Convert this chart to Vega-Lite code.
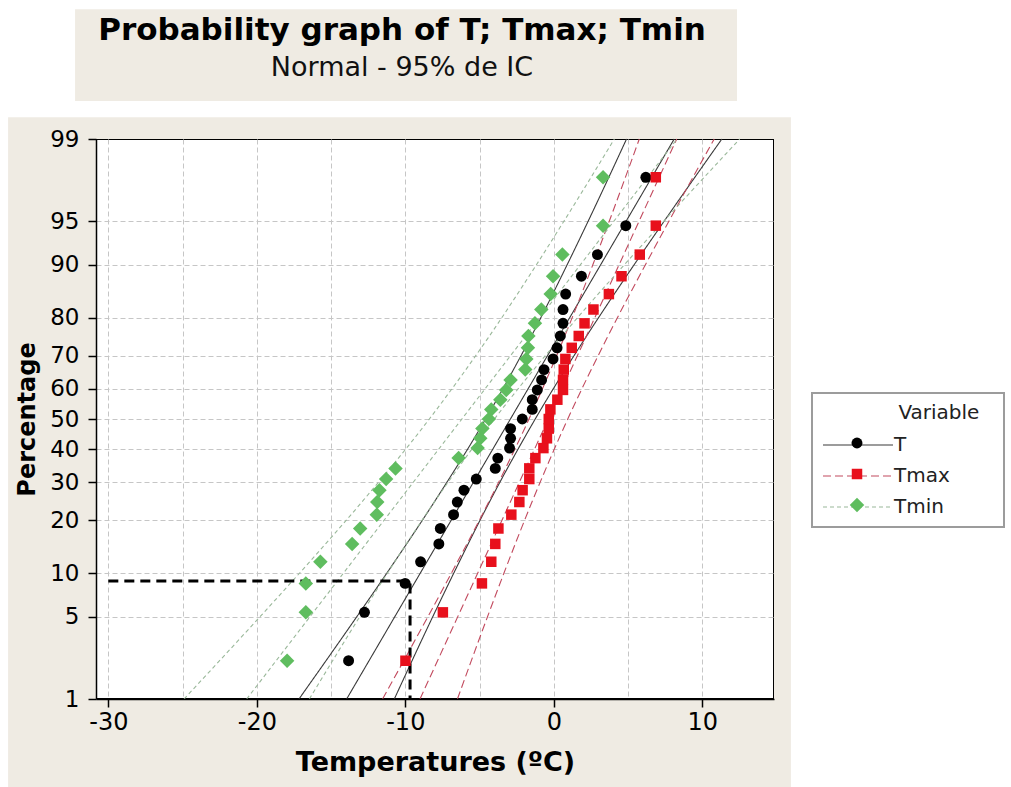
{
  "$schema": "https://vega.github.io/schema/vega-lite/v6.json",
  "width": 678,
  "height": 560,
  "autosize": "none",
  "padding": {"left": 96, "top": 139, "right": 237, "bottom": 88},
  "background": "#ffffff",
  "config": {
    "view": {"stroke": "#000000", "strokeWidth": 2, "fill": "#ffffff"},
    "font": "DejaVu Sans"
  },
  "title": {
    "text": "Probability graph of T; Tmax; Tmin",
    "subtitle": "Normal - 95% de IC",
    "anchor": "middle",
    "frame": "group",
    "font": "DejaVu Sans",
    "fontSize": 31,
    "fontWeight": "bold",
    "color": "#000000",
    "subtitleFont": "DejaVu Sans",
    "subtitleFontSize": 27,
    "subtitleColor": "#111111",
    "subtitlePadding": 8,
    "offset": -73,
    "dx": -33
  },
  "datasets": {
    "points": [
      {"var": "T", "pct": 2.23, "temp": -13.82}, {"var": "T", "pct": 5.41, "temp": -12.75}, {"var": "T", "pct": 8.6, "temp": -10.01},
      {"var": "T", "pct": 11.78, "temp": -8.97}, {"var": "T", "pct": 14.97, "temp": -7.74}, {"var": "T", "pct": 18.15, "temp": -7.64},
      {"var": "T", "pct": 21.34, "temp": -6.75}, {"var": "T", "pct": 24.52, "temp": -6.5}, {"var": "T", "pct": 27.71, "temp": -6.05},
      {"var": "T", "pct": 30.89, "temp": -5.22}, {"var": "T", "pct": 34.08, "temp": -3.94}, {"var": "T", "pct": 37.26, "temp": -3.77},
      {"var": "T", "pct": 40.45, "temp": -2.98}, {"var": "T", "pct": 43.63, "temp": -2.91}, {"var": "T", "pct": 46.82, "temp": -2.91},
      {"var": "T", "pct": 50.0, "temp": -2.12}, {"var": "T", "pct": 53.18, "temp": -1.45}, {"var": "T", "pct": 56.37, "temp": -1.45},
      {"var": "T", "pct": 59.55, "temp": -1.11}, {"var": "T", "pct": 62.74, "temp": -0.82}, {"var": "T", "pct": 65.92, "temp": -0.66},
      {"var": "T", "pct": 69.11, "temp": -0.05}, {"var": "T", "pct": 72.29, "temp": 0.22}, {"var": "T", "pct": 75.48, "temp": 0.44},
      {"var": "T", "pct": 78.66, "temp": 0.62}, {"var": "T", "pct": 81.85, "temp": 0.62}, {"var": "T", "pct": 85.03, "temp": 0.8},
      {"var": "T", "pct": 88.22, "temp": 1.86}, {"var": "T", "pct": 91.4, "temp": 2.94}, {"var": "T", "pct": 94.59, "temp": 4.85},
      {"var": "T", "pct": 97.77, "temp": 6.2},
      {"var": "Tmax", "pct": 2.23, "temp": -9.99}, {"var": "Tmax", "pct": 5.41, "temp": -7.47}, {"var": "Tmax", "pct": 8.6, "temp": -4.84},
      {"var": "Tmax", "pct": 11.78, "temp": -4.21}, {"var": "Tmax", "pct": 14.97, "temp": -3.94}, {"var": "Tmax", "pct": 18.15, "temp": -3.73},
      {"var": "Tmax", "pct": 21.34, "temp": -2.86}, {"var": "Tmax", "pct": 24.52, "temp": -2.32}, {"var": "Tmax", "pct": 27.71, "temp": -2.1},
      {"var": "Tmax", "pct": 30.89, "temp": -1.65}, {"var": "Tmax", "pct": 34.08, "temp": -1.65}, {"var": "Tmax", "pct": 37.26, "temp": -1.24},
      {"var": "Tmax", "pct": 40.45, "temp": -0.7}, {"var": "Tmax", "pct": 43.63, "temp": -0.46}, {"var": "Tmax", "pct": 46.82, "temp": -0.34},
      {"var": "Tmax", "pct": 50.0, "temp": -0.34}, {"var": "Tmax", "pct": 53.18, "temp": -0.23}, {"var": "Tmax", "pct": 56.37, "temp": 0.24},
      {"var": "Tmax", "pct": 59.55, "temp": 0.62}, {"var": "Tmax", "pct": 62.74, "temp": 0.62}, {"var": "Tmax", "pct": 65.92, "temp": 0.67},
      {"var": "Tmax", "pct": 69.11, "temp": 0.78}, {"var": "Tmax", "pct": 72.29, "temp": 1.21}, {"var": "Tmax", "pct": 75.48, "temp": 1.68},
      {"var": "Tmax", "pct": 78.66, "temp": 2.07}, {"var": "Tmax", "pct": 81.85, "temp": 2.67}, {"var": "Tmax", "pct": 85.03, "temp": 3.71},
      {"var": "Tmax", "pct": 88.22, "temp": 4.56}, {"var": "Tmax", "pct": 91.4, "temp": 5.79}, {"var": "Tmax", "pct": 94.59, "temp": 6.87},
      {"var": "Tmax", "pct": 97.77, "temp": 6.87},
      {"var": "Tmin", "pct": 2.23, "temp": -17.96}, {"var": "Tmin", "pct": 5.41, "temp": -16.7}, {"var": "Tmin", "pct": 8.6, "temp": -16.7},
      {"var": "Tmin", "pct": 11.78, "temp": -15.72}, {"var": "Tmin", "pct": 14.97, "temp": -13.58}, {"var": "Tmin", "pct": 18.15, "temp": -13.04},
      {"var": "Tmin", "pct": 21.34, "temp": -11.92}, {"var": "Tmin", "pct": 24.52, "temp": -11.89}, {"var": "Tmin", "pct": 27.71, "temp": -11.74},
      {"var": "Tmin", "pct": 30.89, "temp": -11.29}, {"var": "Tmin", "pct": 34.08, "temp": -10.66}, {"var": "Tmin", "pct": 37.26, "temp": -6.41},
      {"var": "Tmin", "pct": 40.45, "temp": -5.13}, {"var": "Tmin", "pct": 43.63, "temp": -4.95}, {"var": "Tmin", "pct": 46.82, "temp": -4.81},
      {"var": "Tmin", "pct": 50.0, "temp": -4.37}, {"var": "Tmin", "pct": 53.18, "temp": -4.21}, {"var": "Tmin", "pct": 56.37, "temp": -3.6},
      {"var": "Tmin", "pct": 59.55, "temp": -3.2}, {"var": "Tmin", "pct": 62.74, "temp": -2.91}, {"var": "Tmin", "pct": 65.92, "temp": -1.92},
      {"var": "Tmin", "pct": 69.11, "temp": -1.85}, {"var": "Tmin", "pct": 72.29, "temp": -1.74}, {"var": "Tmin", "pct": 75.48, "temp": -1.71},
      {"var": "Tmin", "pct": 78.66, "temp": -1.27}, {"var": "Tmin", "pct": 81.85, "temp": -0.84}, {"var": "Tmin", "pct": 85.03, "temp": -0.21},
      {"var": "Tmin", "pct": 88.22, "temp": -0.05}, {"var": "Tmin", "pct": 91.4, "temp": 0.58}, {"var": "Tmin", "pct": 94.59, "temp": 3.32},
      {"var": "Tmin", "pct": 97.77, "temp": 3.32}
    ],
    "lines": [
      {"series": "T", "part": "fit", "pct": 1, "temp": -13.95}, {"series": "T", "part": "fit", "pct": 99, "temp": 8.11},
      {"series": "T", "part": "lo", "pct": 1, "temp": -17.16}, {"series": "T", "part": "lo", "pct": 5, "temp": -13.28},
      {"series": "T", "part": "lo", "pct": 10, "temp": -11.25}, {"series": "T", "part": "lo", "pct": 25, "temp": -7.97},
      {"series": "T", "part": "lo", "pct": 50, "temp": -4.59}, {"series": "T", "part": "lo", "pct": 75, "temp": -1.57},
      {"series": "T", "part": "lo", "pct": 90, "temp": 0.9}, {"series": "T", "part": "lo", "pct": 95, "temp": 2.32},
      {"series": "T", "part": "lo", "pct": 99, "temp": 4.9},
      {"series": "T", "part": "hi", "pct": 1, "temp": -10.74}, {"series": "T", "part": "hi", "pct": 5, "temp": -8.16},
      {"series": "T", "part": "hi", "pct": 10, "temp": -6.74}, {"series": "T", "part": "hi", "pct": 25, "temp": -4.27},
      {"series": "T", "part": "hi", "pct": 50, "temp": -1.25}, {"series": "T", "part": "hi", "pct": 75, "temp": 2.13},
      {"series": "T", "part": "hi", "pct": 90, "temp": 5.41}, {"series": "T", "part": "hi", "pct": 95, "temp": 7.44},
      {"series": "T", "part": "hi", "pct": 99, "temp": 11.32},
      {"series": "Tmax", "part": "fit", "pct": 1, "temp": -9.01}, {"series": "Tmax", "part": "fit", "pct": 99, "temp": 8.28},
      {"series": "Tmax", "part": "lo", "pct": 1, "temp": -11.53}, {"series": "Tmax", "part": "lo", "pct": 5, "temp": -8.49},
      {"series": "Tmax", "part": "lo", "pct": 10, "temp": -6.9}, {"series": "Tmax", "part": "lo", "pct": 25, "temp": -4.32},
      {"series": "Tmax", "part": "lo", "pct": 50, "temp": -1.67}, {"series": "Tmax", "part": "lo", "pct": 75, "temp": 0.69},
      {"series": "Tmax", "part": "lo", "pct": 90, "temp": 2.63}, {"series": "Tmax", "part": "lo", "pct": 95, "temp": 3.74},
      {"series": "Tmax", "part": "lo", "pct": 99, "temp": 5.76},
      {"series": "Tmax", "part": "hi", "pct": 1, "temp": -6.49}, {"series": "Tmax", "part": "hi", "pct": 5, "temp": -4.47},
      {"series": "Tmax", "part": "hi", "pct": 10, "temp": -3.36}, {"series": "Tmax", "part": "hi", "pct": 25, "temp": -1.42},
      {"series": "Tmax", "part": "hi", "pct": 50, "temp": 0.94}, {"series": "Tmax", "part": "hi", "pct": 75, "temp": 3.59},
      {"series": "Tmax", "part": "hi", "pct": 90, "temp": 6.17}, {"series": "Tmax", "part": "hi", "pct": 95, "temp": 7.76},
      {"series": "Tmax", "part": "hi", "pct": 99, "temp": 10.8},
      {"series": "Tmin", "part": "fit", "pct": 1, "temp": -20.68}, {"series": "Tmin", "part": "fit", "pct": 99, "temp": 8.3},
      {"series": "Tmin", "part": "lo", "pct": 1, "temp": -24.9}, {"series": "Tmin", "part": "lo", "pct": 5, "temp": -19.8},
      {"series": "Tmin", "part": "lo", "pct": 10, "temp": -17.13}, {"series": "Tmin", "part": "lo", "pct": 25, "temp": -12.82},
      {"series": "Tmin", "part": "lo", "pct": 50, "temp": -8.38}, {"series": "Tmin", "part": "lo", "pct": 75, "temp": -4.42},
      {"series": "Tmin", "part": "lo", "pct": 90, "temp": -1.17}, {"series": "Tmin", "part": "lo", "pct": 95, "temp": 0.69},
      {"series": "Tmin", "part": "lo", "pct": 99, "temp": 4.08},
      {"series": "Tmin", "part": "hi", "pct": 1, "temp": -16.46}, {"series": "Tmin", "part": "hi", "pct": 5, "temp": -13.08},
      {"series": "Tmin", "part": "hi", "pct": 10, "temp": -11.21}, {"series": "Tmin", "part": "hi", "pct": 25, "temp": -7.96},
      {"series": "Tmin", "part": "hi", "pct": 50, "temp": -4.0}, {"series": "Tmin", "part": "hi", "pct": 75, "temp": 0.44},
      {"series": "Tmin", "part": "hi", "pct": 90, "temp": 4.75}, {"series": "Tmin", "part": "hi", "pct": 95, "temp": 7.42},
      {"series": "Tmin", "part": "hi", "pct": 99, "temp": 12.52}
    ],
    "ref": [
      {"step": 1, "pct": 8.9, "temp": -30},
      {"step": 2, "pct": 8.9, "temp": -9.68},
      {"step": 3, "pct": 1, "temp": -9.68}
    ]
  },
  "resolve": {"axis": {"x": "independent", "y": "independent"}},
  "layer": [
    {
      "data": {"values": [{}]},
      "mark": {"type": "rect", "color": "#efebe3"},
      "encoding": {
        "x": {"datum": -36.75, "type": "quantitative", "scale": {"domain": [-30.83, 14.83], "nice": false, "zero": false}, "axis": null},
        "x2": {"datum": -30.83},
        "y": {"datum": -3.1, "type": "quantitative", "scale": {"domain": [-2.3263, 2.3263], "nice": false, "zero": false}, "axis": null},
        "y2": {"datum": 2.507}
      }
    },
    {
      "data": {"values": [{}]},
      "mark": {"type": "rect", "color": "#efebe3"},
      "encoding": {
        "x": {"datum": 14.83, "type": "quantitative", "scale": {"domain": [-30.83, 14.83], "nice": false, "zero": false}, "axis": null},
        "x2": {"datum": 15.97},
        "y": {"datum": -3.1, "type": "quantitative", "scale": {"domain": [-2.3263, 2.3263], "nice": false, "zero": false}, "axis": null},
        "y2": {"datum": 2.507}
      }
    },
    {
      "data": {"values": [{}]},
      "mark": {"type": "rect", "color": "#efebe3"},
      "encoding": {
        "x": {"datum": -30.83, "type": "quantitative", "scale": {"domain": [-30.83, 14.83], "nice": false, "zero": false}, "axis": null},
        "x2": {"datum": 14.83},
        "y": {"datum": 2.3263, "type": "quantitative", "scale": {"domain": [-2.3263, 2.3263], "nice": false, "zero": false}, "axis": null},
        "y2": {"datum": 2.507}
      }
    },
    {
      "data": {"values": [{}]},
      "mark": {"type": "rect", "color": "#efebe3"},
      "encoding": {
        "x": {"datum": -30.83, "type": "quantitative", "scale": {"domain": [-30.83, 14.83], "nice": false, "zero": false}, "axis": null},
        "x2": {"datum": 14.83},
        "y": {"datum": -3.1, "type": "quantitative", "scale": {"domain": [-2.3263, 2.3263], "nice": false, "zero": false}, "axis": null},
        "y2": {"datum": -2.3263}
      }
    },
    {
      "data": {"values": [{}]},
      "mark": {"type": "rect", "color": "#efebe3"},
      "encoding": {
        "x": {"datum": -32.24, "type": "quantitative", "scale": {"domain": [-30.83, 14.83], "nice": false, "zero": false}, "axis": null},
        "x2": {"datum": 12.34},
        "y": {"datum": 2.641, "type": "quantitative", "scale": {"domain": [-2.3263, 2.3263], "nice": false, "zero": false}, "axis": null},
        "y2": {"datum": 3.405}
      }
    },
    {
      "data": {"name": "lines"},
      "transform": [{"calculate": "quantileNormal(datum.pct / 100)", "as": "z"}],
      "mark": {"type": "line", "strokeWidth": 1.1, "interpolate": "monotone"},
      "encoding": {
        "x": {
          "field": "temp", "type": "quantitative",
          "scale": {"domain": [-30.83, 14.83], "nice": false, "zero": false},
          "axis": {
            "orient": "bottom", "values": [-30, -25, -20, -15, -10, -5, 0, 5, 10],
            "grid": true, "gridColor": "#c6c6c6", "gridDash": [5, 3], "gridWidth": 1,
            "domain": false, "ticks": false, "labels": false, "title": null, "zindex": 0
          }
        },
        "y": {
          "field": "z", "type": "quantitative",
          "scale": {"domain": [-2.3263, 2.3263], "nice": false, "zero": false},
          "axis": {
            "orient": "left",
            "values": [-1.6449, -1.2816, -0.8416, -0.5244, -0.2533, 0, 0.2533, 0.5244, 0.8416, 1.2816, 1.6449],
            "grid": true, "gridColor": "#c6c6c6", "gridDash": [5, 3], "gridWidth": 1,
            "domain": false, "ticks": false, "labels": false, "title": null, "zindex": 0
          }
        },
        "detail": {"field": "part"},
        "order": {"field": "pct", "type": "quantitative"},
        "stroke": {
          "field": "series", "type": "nominal",
          "scale": {"range": ["#3a3a3a", "#c24a5e", "#9ab89a"]},
          "legend": {
            "orient": "none", "legendX": 716, "legendY": 254,
            "title": "Variable\u2800", "titleFont": "DejaVu Sans", "titleFontSize": 20, "titleFontWeight": "normal",
            "titleColor": "#222222", "titleAnchor": "end", "titleAlign": "right", "titlePadding": 12,
            "padding": 10, "fillColor": "#ffffff", "strokeColor": "#9c9c9c",
            "labelFont": "DejaVu Sans", "labelFontSize": 20, "labelColor": "#222222",
            "labelOffset": 26, "labelExpr": "datum.label + '\u2800\u2800\u2800'", "rowPadding": 11,
            "symbolType": "M-7,0H7", "symbolSize": 100, "symbolStrokeWidth": 1.2, "symbolOffset": 26,
            "encode": {"legend": {"update": {"strokeWidth": {"value": 2}}}}
          }
        },
        "strokeDash": {
          "field": "series", "type": "nominal",
          "scale": {"range": [[1, 0], [8, 4], [4, 3]]},
          "legend": {
            "orient": "none", "legendX": 716, "legendY": 254,
            "title": "Variable\u2800", "titleFont": "DejaVu Sans", "titleFontSize": 20, "titleFontWeight": "normal",
            "titleColor": "#222222", "titleAnchor": "end", "titleAlign": "right", "titlePadding": 12,
            "padding": 10, "fillColor": "#ffffff", "strokeColor": "#9c9c9c",
            "labelFont": "DejaVu Sans", "labelFontSize": 20, "labelColor": "#222222",
            "labelOffset": 26, "labelExpr": "datum.label + '\u2800\u2800\u2800'", "rowPadding": 11,
            "symbolType": "M-7,0H7", "symbolSize": 100, "symbolStrokeWidth": 1.2, "symbolOffset": 26,
            "encode": {"legend": {"update": {"strokeWidth": {"value": 2}}}}
          }
        }
      }
    },
    {
      "data": {"name": "ref"},
      "transform": [{"calculate": "quantileNormal(datum.pct / 100)", "as": "z"}],
      "mark": {"type": "line", "color": "#000000", "strokeWidth": 3, "strokeDash": [10, 6]},
      "encoding": {
        "x": {"field": "temp", "type": "quantitative", "scale": {"domain": [-30.83, 14.83], "nice": false, "zero": false}, "axis": null},
        "y": {"field": "z", "type": "quantitative", "scale": {"domain": [-2.3263, 2.3263], "nice": false, "zero": false}, "axis": null},
        "order": {"field": "step", "type": "quantitative"}
      }
    },
    {
      "data": {"name": "points"},
      "transform": [{"calculate": "quantileNormal(datum.pct / 100)", "as": "z"}],
      "mark": {"type": "point", "filled": true, "opacity": 1, "strokeWidth": 0},
      "encoding": {
        "x": {
          "field": "temp", "type": "quantitative",
          "scale": {"domain": [-30.83, 14.83], "nice": false, "zero": false},
          "axis": {
            "orient": "bottom", "values": [-30, -20, -10, 0, 10], "grid": false,
            "labelExpr": "toString(datum.value)",
            "domain": true, "domainColor": "#000000", "domainWidth": 1.5,
            "ticks": true, "tickSize": 8, "tickColor": "#000000", "tickWidth": 1.5,
            "labelFont": "DejaVu Sans", "labelFontSize": 24, "labelColor": "#000000", "labelPadding": 3,
            "labelFlush": false, "labelOverlap": false,
            "title": "Temperatures (ºC)", "titleFont": "DejaVu Sans", "titleFontSize": 27, "titleFontWeight": "bold",
            "titleColor": "#000000", "titlePadding": 15, "zindex": 1
          }
        },
        "y": {
          "field": "z", "type": "quantitative",
          "scale": {"domain": [-2.3263, 2.3263], "nice": false, "zero": false},
          "axis": {
            "orient": "left",
            "values": [-2.3263, -1.6449, -1.2816, -0.8416, -0.5244, -0.2533, 0, 0.2533, 0.5244, 0.8416, 1.2816, 1.6449, 2.3263],
            "labelExpr": "format(cumulativeNormal(datum.value) * 100, '.0f')",
            "grid": false, "domain": true, "domainColor": "#000000", "domainWidth": 1.5,
            "ticks": true, "tickSize": 8, "tickColor": "#000000", "tickWidth": 1.5,
            "labelFont": "DejaVu Sans", "labelFontSize": 23, "labelColor": "#000000", "labelPadding": 9,
            "labelFlush": false, "labelOverlap": false,
            "title": "Percentage", "titleFont": "DejaVu Sans", "titleFontSize": 24, "titleFontWeight": "bold",
            "titleColor": "#000000", "titlePadding": 10, "zindex": 1
          }
        },
        "color": {
          "field": "var", "type": "nominal",
          "scale": {"domain": ["T", "Tmax", "Tmin"], "range": ["#000000", "#e8101c", "#5fbd5f"]},
          "legend": {
            "orient": "none", "legendX": 751, "legendY": 294,
            "title": null, "padding": 0,
            "labelFont": "DejaVu Sans", "labelFontSize": 20, "labelExpr": "''", "rowPadding": 11,
            "symbolSize": 100, "symbolStrokeWidth": 1
          }
        },
        "shape": {
          "field": "var", "type": "nominal",
          "scale": {"domain": ["T", "Tmax", "Tmin"], "range": ["circle", "square", "diamond"]},
          "legend": {
            "orient": "none", "legendX": 751, "legendY": 294,
            "title": null, "padding": 0,
            "labelFont": "DejaVu Sans", "labelFontSize": 20, "labelExpr": "''", "rowPadding": 11,
            "symbolSize": 100, "symbolStrokeWidth": 1
          }
        },
        "size": {
          "field": "var", "type": "nominal",
          "scale": {"type": "ordinal", "domain": ["T", "Tmax", "Tmin"], "range": [120, 110, 210]},
          "legend": null
        }
      }
    }
  ]
}
